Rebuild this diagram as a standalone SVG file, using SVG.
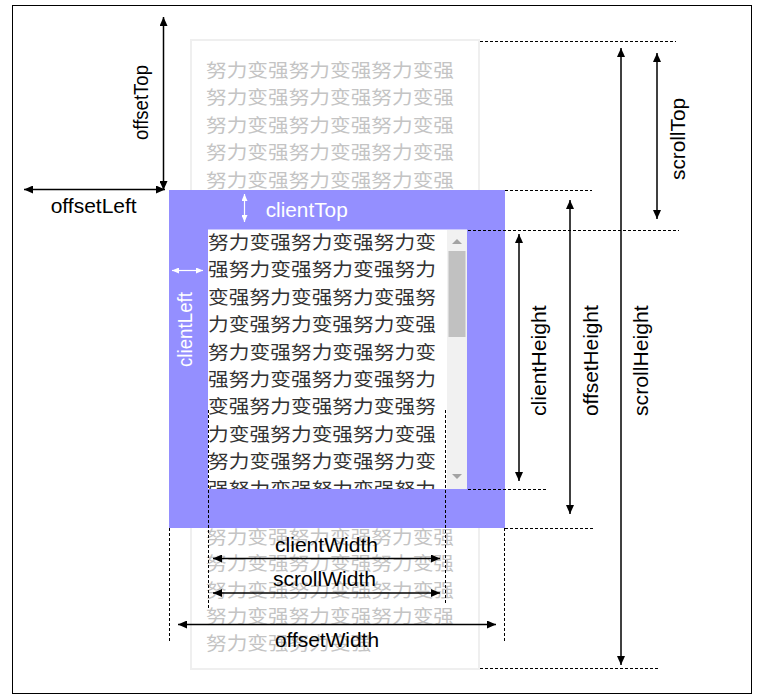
<svg xmlns="http://www.w3.org/2000/svg" width="764" height="700" viewBox="0 0 764 700">
<defs>
<style>
.lbl{font-family:"Liberation Sans",Arial,sans-serif;font-size:19.5px;fill:#000}
.vl{font-size:20px}
.wl{fill:#fff}
.cjk{font-family:"Noto Sans CJK SC","Noto Sans CJK TC",sans-serif;font-size:18.5px}
.gray{fill:#c4c4c4}
.dark{fill:#333}
.dash{stroke:#000;stroke-width:1;stroke-dasharray:3 2;fill:none}
.arr{stroke:#000;stroke-width:1.5;fill:none;marker-start:url(#ah);marker-end:url(#ah)}
.warr{stroke:#fff;stroke-width:1.2;fill:none;marker-start:url(#wh);marker-end:url(#wh)}
</style>
<marker id="ah" viewBox="0 0 9 8" refX="9" refY="4" markerWidth="9" markerHeight="8" markerUnits="userSpaceOnUse" orient="auto-start-reverse"><path d="M0,0 L9,4 L0,8 z" fill="#000"/></marker>
<marker id="wh" viewBox="0 0 7 6" refX="7" refY="3" markerWidth="7" markerHeight="6" markerUnits="userSpaceOnUse" orient="auto-start-reverse"><path d="M0,0 L7,3 L0,6 z" fill="#fff"/></marker>
<clipPath id="clientClip"><rect x="208" y="230" width="239" height="259"/></clipPath>
</defs>
<rect x="0" y="0" width="764" height="700" fill="#fff"/>
<rect id="frame" x="12.5" y="5.5" width="739" height="688" fill="none" stroke="#000" stroke-width="1"/>

<g id="scroll-content">
<rect x="191" y="40" width="288" height="629" fill="#fff" stroke="#efefef" stroke-width="2"/>
<g class="cjk gray">
<text x="206" y="77" textLength="248" lengthAdjust="spacingAndGlyphs">努力变强努力变强努力变强</text>
<text x="206" y="104.4" textLength="248" lengthAdjust="spacingAndGlyphs">努力变强努力变强努力变强</text>
<text x="206" y="131.8" textLength="248" lengthAdjust="spacingAndGlyphs">努力变强努力变强努力变强</text>
<text x="206" y="159.2" textLength="248" lengthAdjust="spacingAndGlyphs">努力变强努力变强努力变强</text>
<text x="206" y="186.6" textLength="248" lengthAdjust="spacingAndGlyphs">努力变强努力变强努力变强</text>
<text x="206" y="543.5" textLength="248" lengthAdjust="spacingAndGlyphs">努力变强努力变强努力变强</text>
<text x="206" y="570" textLength="248" lengthAdjust="spacingAndGlyphs">努力变强努力变强努力变强</text>
<text x="206" y="596.5" textLength="248" lengthAdjust="spacingAndGlyphs">努力变强努力变强努力变强</text>
<text x="206" y="623" textLength="248" lengthAdjust="spacingAndGlyphs">努力变强努力变强努力变强</text>
<text x="206" y="649.5" textLength="165.3" lengthAdjust="spacingAndGlyphs">努力变强努力变强</text>
</g>
</g>

<g id="element">
<rect x="169" y="190" width="336" height="338" fill="#948fff"/>
<rect x="208" y="229.5" width="259" height="259.5" fill="#fff"/>
<g clip-path="url(#clientClip)" class="cjk dark">
<text x="208" y="249" textLength="228" lengthAdjust="spacingAndGlyphs">努力变强努力变强努力变</text>
<text x="208" y="276.4" textLength="228" lengthAdjust="spacingAndGlyphs">强努力变强努力变强努力</text>
<text x="208" y="303.8" textLength="228" lengthAdjust="spacingAndGlyphs">变强努力变强努力变强努</text>
<text x="208" y="331.2" textLength="228" lengthAdjust="spacingAndGlyphs">力变强努力变强努力变强</text>
<text x="208" y="358.6" textLength="228" lengthAdjust="spacingAndGlyphs">努力变强努力变强努力变</text>
<text x="208" y="386" textLength="228" lengthAdjust="spacingAndGlyphs">强努力变强努力变强努力</text>
<text x="208" y="413.4" textLength="228" lengthAdjust="spacingAndGlyphs">变强努力变强努力变强努</text>
<text x="208" y="440.8" textLength="228" lengthAdjust="spacingAndGlyphs">力变强努力变强努力变强</text>
<text x="208" y="468.2" textLength="228" lengthAdjust="spacingAndGlyphs">努力变强努力变强努力变</text>
<text x="208" y="495.6" textLength="228" lengthAdjust="spacingAndGlyphs">强努力变强努力变强努力</text>
</g>
<g id="scrollbar">
<rect x="447" y="230" width="20" height="259" fill="#f1f1f1"/>
<rect x="448.5" y="251" width="17" height="86" fill="#c1c1c1"/>
<polygon points="452,244 462,244 457,239" fill="#a3a3a3"/>
<polygon points="452,474 462,474 457,479" fill="#a3a3a3"/>
</g>
</g>

<g id="connectors">
<line class="dash" x1="480" y1="41.5" x2="676" y2="41.5"/>
<line class="dash" x1="505" y1="190.5" x2="592" y2="190.5"/>
<line class="dash" x1="468" y1="230.5" x2="679" y2="230.5"/>
<line class="dash" x1="468" y1="489.5" x2="547" y2="489.5"/>
<line class="dash" x1="505" y1="528.5" x2="594" y2="528.5"/>
<line class="dash" x1="504.5" y1="528" x2="504.5" y2="641"/>
<line class="dash" x1="480" y1="668.5" x2="658" y2="668.5"/>
<line class="dash" x1="169.5" y1="528" x2="169.5" y2="642"/>
<line class="dash" x1="208.5" y1="410" x2="208.5" y2="608"/>
<line class="dash" x1="445.5" y1="410" x2="445.5" y2="604"/>

<line class="arr" x1="163.5" y1="17" x2="163.5" y2="190"/>
<line class="arr" x1="24" y1="189.5" x2="165" y2="189.5"/>
<line class="warr" x1="244.5" y1="194" x2="244.5" y2="222"/>
<line class="warr" x1="172" y1="270.5" x2="203" y2="270.5"/>
<line class="arr" x1="519" y1="234" x2="519" y2="481"/>
<line class="arr" x1="570" y1="200" x2="570" y2="514"/>
<line class="arr" x1="621" y1="48" x2="621" y2="665"/>
<line class="arr" x1="657" y1="53" x2="657" y2="219"/>
<line class="arr" x1="213" y1="558.5" x2="440" y2="558.5"/>
<line class="arr" x1="213" y1="593" x2="440" y2="593"/>
<line class="arr" x1="178" y1="624.5" x2="496" y2="624.5"/>
</g>

<g id="labels">
<text class="lbl" x="50.7" y="213" textLength="86" lengthAdjust="spacingAndGlyphs">offsetLeft</text>
<text class="lbl wl" x="265.7" y="216.5" textLength="82" lengthAdjust="spacingAndGlyphs">clientTop</text>
<text class="lbl" x="275" y="551.5" textLength="103" lengthAdjust="spacingAndGlyphs">clientWidth</text>
<text class="lbl" x="273" y="586" textLength="103" lengthAdjust="spacingAndGlyphs">scrollWidth</text>
<text class="lbl" x="275" y="646.7" textLength="104" lengthAdjust="spacingAndGlyphs">offsetWidth</text>
<text class="lbl vl" transform="translate(148,140) rotate(-90)" textLength="75" lengthAdjust="spacingAndGlyphs">offsetTop</text>
<text class="lbl vl wl" transform="translate(192,367) rotate(-90)" textLength="75" lengthAdjust="spacingAndGlyphs">clientLeft</text>
<text class="lbl vl" transform="translate(685,180) rotate(-90)" textLength="82" lengthAdjust="spacingAndGlyphs">scrollTop</text>
<text class="lbl vl" transform="translate(546,416) rotate(-90)" textLength="110.7" lengthAdjust="spacingAndGlyphs">clientHeight</text>
<text class="lbl vl" transform="translate(597.5,416) rotate(-90)" textLength="110.7" lengthAdjust="spacingAndGlyphs">offsetHeight</text>
<text class="lbl vl" transform="translate(647.5,416) rotate(-90)" textLength="110.7" lengthAdjust="spacingAndGlyphs">scrollHeight</text>
</g>
</svg>
